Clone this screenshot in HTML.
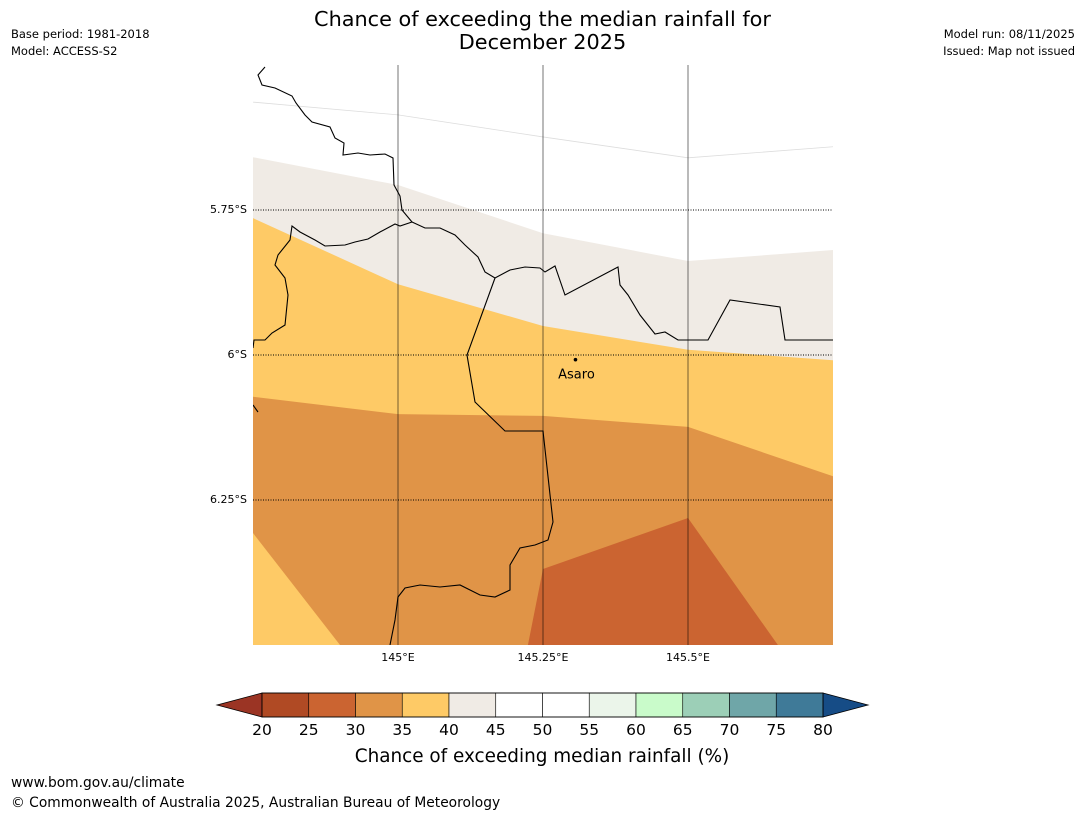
<!DOCTYPE html>
<html><head><meta charset="utf-8"><style>
body{margin:0;background:#fff;font-family:"Liberation Sans","DejaVu Sans",sans-serif;}
#wrap{position:relative;width:1085px;height:816px;overflow:hidden;}
.t{position:absolute;white-space:nowrap;color:#000;}
</style></head><body>
<div id="wrap">
<div class="t" style="left:0;width:1085px;text-align:center;top:8px;font-size:20.8px;line-height:23px;font-family:'DejaVu Sans',sans-serif">Chance of exceeding the median rainfall for<br>December 2025</div>
<div class="t" style="left:11px;top:26px;font-size:11.5px;font-family:'DejaVu Sans',sans-serif;line-height:17px">Base period: 1981-2018<br>Model: ACCESS-S2</div>
<div class="t" style="right:10px;top:26px;font-size:11.5px;text-align:right;font-family:'DejaVu Sans',sans-serif;line-height:17px">Model run: 08/11/2025<br>Issued: Map not issued</div>
<svg id="map" width="1085" height="816" style="position:absolute;left:0;top:0" font-family="DejaVu Sans, sans-serif"></svg>
<div class="t" style="left:11px;top:775px;font-size:13.8px;font-family:'DejaVu Sans',sans-serif">www.bom.gov.au/climate</div>
<div class="t" style="left:11px;top:795px;font-size:13.8px;font-family:'DejaVu Sans',sans-serif">© Commonwealth of Australia 2025, Australian Bureau of Meteorology</div>
</div>
<script>
// data
const lonTicks=[145,145.25,145.5];
const lonLabels=["145°E","145.25°E","145.5°E"];
const latTicks=[-5.75,-6,-6.25];
const latLabels=["5.75°S","6°S","6.25°S"];
const bndLons=[144.75,145,145.25,145.5,145.75];
const bnd45_50=[-5.564,-5.586,-5.624,-5.660,-5.641];
const bnd40_45=[-5.659,-5.707,-5.790,-5.838,-5.819];
const bnd35_40=[-5.764,-5.878,-5.950,-5.991,-6.009];
const bnd30_35=[-6.072,-6.102,-6.105,-6.124,-6.209];
const yellowSW=[[144.75,-6.307],[144.9,-6.5]];
const dark25_30=[[145.224,-6.5],[145.25,-6.369],[145.5,-6.281],[145.655,-6.5]];
const cbLevels=[20,25,30,35,40,45,50,55,60,65,70,75,80];
const cbColors=["#b04a24","#cb6431","#e09447","#feca66","#f0ebe5","#ffffff","#ffffff","#ebf5ea","#c9fbca","#9ccfb7","#6fa6a8","#3f7a98"];
const cbLow="#9b3424", cbHigh="#164c86";
const place={name:"Asaro",lon:145.306,lat:-6.008};

const X0=253,X1=833,Y0=65,Y1=645,LON0=144.75,LON1=145.75,LAT0=-5.5,LAT1=-6.5;
const sx=l=>X0+(l-LON0)/(LON1-LON0)*(X1-X0);
const sy=l=>Y0+(l-LAT0)/(LAT1-LAT0)*(Y1-Y0);
const svg=document.getElementById('map');const NS="http://www.w3.org/2000/svg";
function mk(t,a,p){const e=document.createElementNS(NS,t);for(const k in a)e.setAttribute(k,a[k]);(p||svg).appendChild(e);return e;}
function line(vals){return bndLons.map((l,i)=>[sx(l),sy(vals[i])]);}
function pts(a){return a.map(p=>p.join(',')).join(' ');}
const clip=mk('clipPath',{id:'mc'});mk('rect',{x:X0,y:Y0,width:X1-X0,height:Y1-Y0},clip);
const g=mk('g',{'clip-path':'url(#mc)'});
let e;
e=mk('rect',{x:X0,y:Y0,width:X1-X0,height:Y1-Y0,fill:'#e09447'},g);

const topEdge=[[X0,Y0],[X1,Y0]];
e=mk('polygon',{points:pts(topEdge.concat(line(bnd30_35).reverse())),fill:'#feca66'},g);

e=mk('polygon',{points:pts(topEdge.concat(line(bnd35_40).reverse())),fill:'#f0ebe5'},g);

e=mk('polygon',{points:pts(topEdge.concat(line(bnd40_45).reverse())),fill:'#ffffff'},g);

e=mk('polyline',{points:pts(line(bnd45_50)),fill:'none',stroke:'#ddd','stroke-width':0.8},g);

e=mk('polygon',{points:pts(yellowSW.map(p=>[sx(p[0]),sy(p[1])]).concat([[sx(LON0),sy(-6.5)]])),fill:'#feca66'},g);

e=mk('polygon',{points:pts(dark25_30.map(p=>[sx(p[0]),sy(p[1])])),fill:'#cb6431'},g);

// borders
const coast=[[265,67],[258,75],[262,85],[275,88],[292,96],[296,103],[305,115],[312,122],[330,127],[335,138],[344,143],[343,155],[358,153],[370,155],[385,154],[393,158],[394,185],[400,196],[402,210],[412,222],[400,226],[395,224],[380,232],[368,239],[355,242],[345,245],[325,246],[315,240],[300,232],[292,226],[290,240],[278,255],[275,265],[285,278],[288,295],[285,325],[272,333],[265,340],[254,340],[253,348]];
const prov1=[[412,222],[425,228],[440,228],[455,235],[465,245],[478,257],[485,272],[495,278],[510,270],[525,267],[540,268],[545,272],[555,266],[565,295],[618,267],[620,285],[628,295],[640,315],[655,334],[665,332],[678,340],[708,340],[730,300],[780,307],[785,340],[833,340]];
const prov2=[[495,278],[467,355],[475,402],[505,431],[543,431],[553,522],[548,540],[535,545],[520,548],[510,565],[510,590],[495,597],[480,595],[460,585],[440,587],[420,585],[405,588],[398,597],[395,620],[390,645]];
[[coast,'coastline'],[prov1,'province-border-north'],[prov2,'province-border-south'],[[[253,405],[258,412]],'coast-fragment']].forEach(([p,n])=>{
 const el=mk('polyline',{points:pts(p),fill:'none',stroke:'#000','stroke-width':1.1},g);
 
 });
// grid
lonTicks.forEach((l,i)=>{
 const gl=mk('line',{x1:sx(l),x2:sx(l),y1:Y0,y2:Y1,stroke:'#000','stroke-opacity':0.45,'stroke-width':1.2});
 
 const t=mk('text',{x:sx(l),y:Y1+16,'text-anchor':'middle','font-size':11});t.textContent=lonLabels[i];
 });
latTicks.forEach((l,i)=>{
 const gl=mk('line',{x1:X0,x2:X1,y1:sy(l),y2:sy(l),stroke:'#000','stroke-width':1,'stroke-dasharray':'1,1.5'});
 
 const t=mk('text',{x:X0-6,y:sy(l)+3,'text-anchor':'end','font-size':11});t.textContent=latLabels[i];
 });
e=mk('circle',{cx:sx(place.lon),cy:sy(place.lat),r:1.8,fill:'#000'});

e=mk('text',{x:sx(place.lon)+1,y:sy(place.lat)+19,'text-anchor':'middle','font-size':13});e.textContent=place.name;

// colorbar
const CB0=262,CB1=823,CBY=693,CBH=24;
const cx=v=>CB0+(v-cbLevels[0])/(cbLevels[cbLevels.length-1]-cbLevels[0])*(CB1-CB0);
e=mk('polygon',{points:`${CB0},${CBY} ${CB0},${CBY+CBH} 217,${CBY+CBH/2}`,fill:cbLow,stroke:'#000','stroke-width':0.8});

e=mk('polygon',{points:`${CB1},${CBY} ${CB1},${CBY+CBH} 868,${CBY+CBH/2}`,fill:cbHigh,stroke:'#000','stroke-width':0.8});

cbColors.forEach((c,i)=>{
 const r=mk('rect',{x:cx(cbLevels[i]),y:CBY,width:cx(cbLevels[i+1])-cx(cbLevels[i]),height:CBH,fill:c,stroke:'#000','stroke-width':0.6});
 });
e=mk('rect',{x:CB0,y:CBY,width:CB1-CB0,height:CBH,fill:'none',stroke:'#000','stroke-width':0.8});

cbLevels.forEach(v=>{
 const t=mk('text',{x:cx(v),y:CBY+CBH+18,'text-anchor':'middle','font-size':15.5});t.textContent=v;
 });
e=mk('text',{x:542,y:762,'text-anchor':'middle','font-size':18.4});e.textContent="Chance of exceeding median rainfall (%)";

</script>
</body></html>
